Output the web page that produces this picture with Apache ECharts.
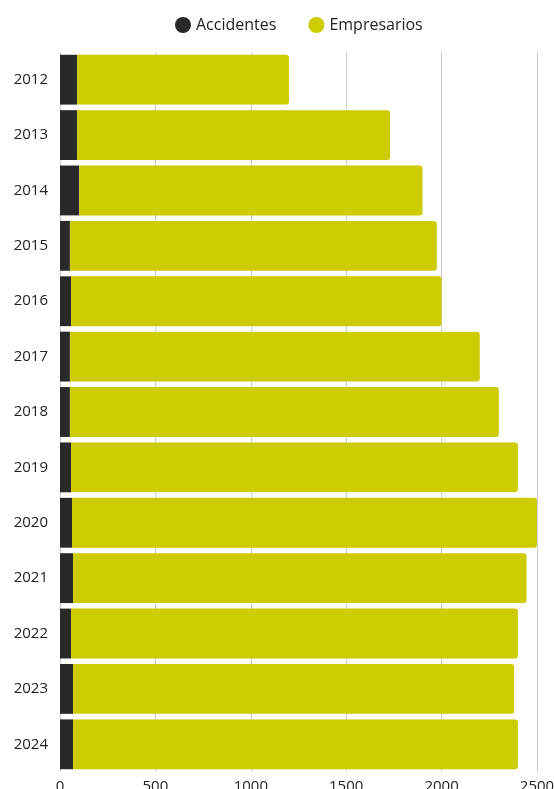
<!DOCTYPE html>
<html>
<head>
<meta charset="utf-8">
<script src="https://cdn.jsdelivr.net/npm/echarts@6/dist/echarts.min.js"></script>
<style>
  html, body { margin: 0; padding: 0; background: #fff; }
  #chart { width: 554px; height: 789px; }
</style>
</head>
<body>
<div id="chart"></div>
<script>
  // años (de arriba a abajo)
  var years = ['2012', '2013', '2014', '2015', '2016', '2017', '2018', '2019', '2020', '2021', '2022', '2023', '2024'];
  var accidentes = [89, 89, 101, 52, 58, 52, 52, 58, 63, 68, 58, 68, 68];
  var empresarios = [1111, 1641, 1799, 1923, 1942, 2148, 2248, 2342, 2437, 2377, 2342, 2312, 2332];
  var xTicks = [0, 500, 1000, 1500, 2000, 2500];

  var chart = echarts.init(document.getElementById('chart'));
  chart.setOption({
    animation: false,
    textStyle: { fontFamily: '"Open Sans", "Noto Sans", sans-serif' },
    color: ['#292929', '#cccc00'],
    legend: {
      top: 12,
      left: 170,
      icon: 'circle',
      itemWidth: 16,
      itemHeight: 16,
      itemGap: 32,
      textStyle: { fontSize: 16, color: '#222' },
      data: ['Accidentes', 'Empresarios']
    },
    grid: {
      left: 60,
      right: 17,
      top: 52,
      bottom: 17,
      containLabel: false,
      outerBoundsMode: 'none'
    },
    xAxis: {
      type: 'value',
      min: xTicks[0],
      max: xTicks[xTicks.length - 1],
      interval: 500,
      axisLine: { show: false },
      axisTick: { show: false },
      axisLabel: {
        color: '#222', fontSize: 15, margin: 7,
        formatter: function (v) { return String(v); }
      },
      splitLine: { lineStyle: { color: '#cccccc', width: 1 } }
    },
    yAxis: {
      type: 'category',
      data: years,
      inverse: true,
      axisLine: { show: false },
      axisTick: { show: false },
      axisLabel: { color: '#222', fontSize: 15, margin: 12 }
    },
    series: [
      {
        name: 'Accidentes',
        type: 'bar',
        stack: 'total',
        data: accidentes,
        barCategoryGap: '10%'
      },
      {
        name: 'Empresarios',
        type: 'bar',
        stack: 'total',
        data: empresarios,
        barCategoryGap: '10%',
        itemStyle: { borderRadius: [0, 3, 3, 0] }
      }
    ]
  });
</script>
</body>
</html>
